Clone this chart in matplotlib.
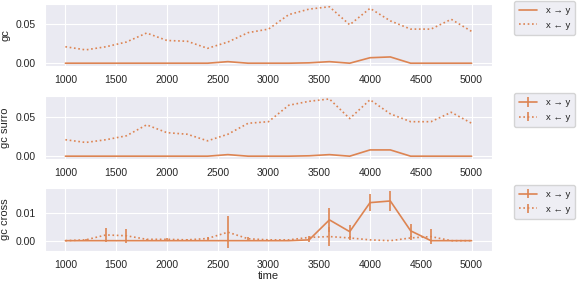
import numpy as np
import matplotlib
matplotlib.use('Agg')
import matplotlib.pyplot as plt
import seaborn as sns

sns.set_style('darkgrid')
plt.rcParams['font.family'] = ['Liberation Sans', 'DejaVu Sans']
plt.rcParams['font.size'] = 7.5

time = [1000, 1200, 1400, 1600, 1800, 2000, 2200, 2400, 2600, 2800, 3000,
        3200, 3400, 3600, 3800, 4000, 4200, 4400, 4600, 4800, 5000]

# gc
gc_fwd = [0, 0, 0, 0, 0, 0, 0, 0, 0.002, 0, 0, 0, 0.0005, 0.002, 0, 0.007, 0.008, 0, 0, 0, 0]
gc_bwd = [0.021, 0.017, 0.021, 0.027, 0.0385, 0.029, 0.028, 0.019, 0.027, 0.039, 0.0435,
          0.062, 0.069, 0.072, 0.049, 0.070, 0.054, 0.0435, 0.0435, 0.056, 0.0406]

# gc surro
gs_fwd = [0, 0, 0, 0, 0, 0, 0, 0, 0.002, 0, 0, 0, 0.0005, 0.002, 0, 0.008, 0.008, 0, 0, 0, 0]
gs_bwd = [0.021, 0.0175, 0.021, 0.026, 0.040, 0.030, 0.028, 0.0196, 0.028, 0.042, 0.044,
          0.065, 0.070, 0.073, 0.048, 0.072, 0.054, 0.044, 0.044, 0.056, 0.042]
gs_fwd_err = [0] * 21
gs_bwd_err = [0] * 21

# gc cross
gx_fwd = [0, 0, 0, 0, 0, 0, 0, 0, 0, 0, 0, 0, 0.0003, 0.0076, 0.0033, 0.0139, 0.0145, 0.0036, 0, 0, 0]
gx_fwd_err = [0, 0, 0, 0, 0, 0, 0, 0, 0, 0, 0, 0, 0.0006, 0.0043, 0.0024, 0.003, 0.0037, 0.0024, 0, 0, 0]
gx_bwd = [0, 0.0003, 0.0021, 0.0018, 0.0005, 0.0005, 0.0003, 0.0008, 0.0031, 0.0007, 0.0003,
          0.0003, 0.0012, 0.0015, 0.001, 0.0003, 0, 0.001, 0.0015, 0, 0]
gx_bwd_err = [0, 0.0003, 0.0024, 0.0026, 0.0002, 0.0005, 0.0002, 0.0007, 0.0058, 0.0008, 0,
              0, 0.0005, 0.0035, 0.0008, 0, 0, 0.0008, 0.0027, 0, 0]

col = '#dd8452'
dots = (0, (1, 1.6))
labels = ['x \u2192 y', 'x \u2190 y']

fig = plt.figure(figsize=(5.78, 2.81), dpi=100)
ax1 = fig.add_axes([0.078, 0.765, 0.773, 0.221])
ax2 = fig.add_axes([0.078, 0.434, 0.773, 0.224])
ax3 = fig.add_axes([0.078, 0.107, 0.773, 0.224])

ax1.plot(time, gc_fwd, color=col, lw=1.2, label=labels[0])
ax1.plot(time, gc_bwd, color=col, lw=1.2, ls=dots, label=labels[1])
ax1.set_ylabel('gc', fontsize=8)

ax2.errorbar(time, gs_fwd, yerr=gs_fwd_err, color=col, lw=1.2, label=labels[0])
ax2.errorbar(time, gs_bwd, yerr=gs_bwd_err, color=col, lw=1.2, ls=dots, label=labels[1])
ax2.set_ylabel('gc surro', fontsize=8)

ax3.errorbar(time, gx_fwd, yerr=gx_fwd_err, color=col, lw=1.2, label=labels[0])
ax3.errorbar(time, gx_bwd, yerr=gx_bwd_err, color=col, lw=1.2, ls=dots, label=labels[1])
ax3.set_ylabel('gc cross', fontsize=8)
ax3.set_xlabel('time', fontsize=8, labelpad=1)

for ax in (ax1, ax2, ax3):
    ax.set_xticks([1000, 1500, 2000, 2500, 3000, 3500, 4000, 4500, 5000])
    ax.tick_params(labelsize=7.5, pad=3)
    ax.legend(loc='upper left', bbox_to_anchor=(1.05, 1.05), fontsize=6.8,
              handlelength=1.9, handletextpad=0.9, borderaxespad=0, borderpad=0.55,
              labelspacing=0.6)
ax1.set_yticks([0.0, 0.05])
ax2.set_yticks([0.0, 0.05])
ax3.set_yticks([0.0, 0.01])

fig.savefig('out.png', dpi=100)
